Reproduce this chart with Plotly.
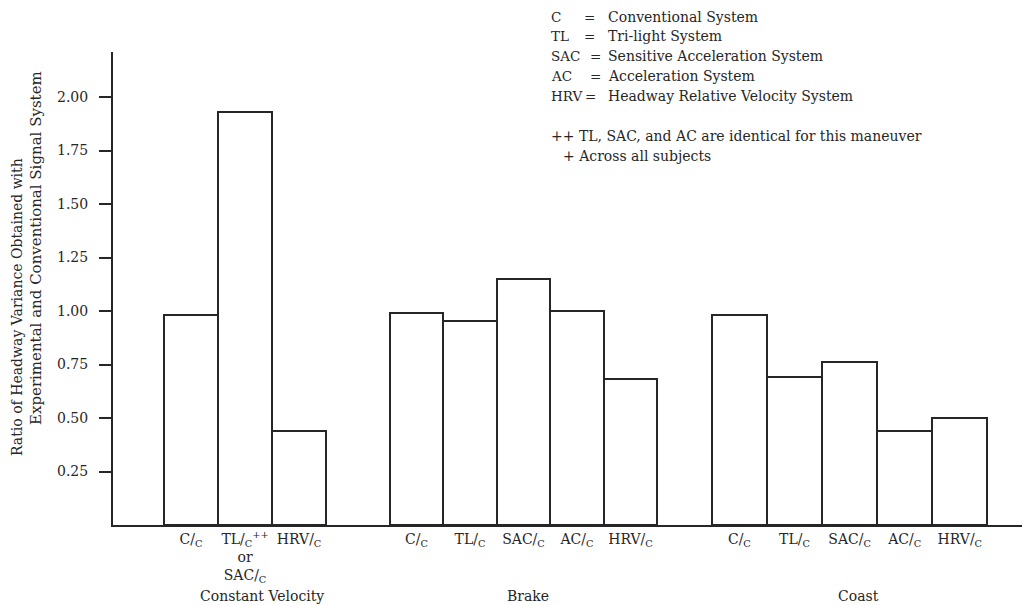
import plotly.graph_objects as go

# ---- data ----
groups = ["Constant Velocity", "Brake", "Coast"]
cv_labels = ["C/<sub>C</sub>", "TL/<sub>C</sub><sup>++</sup><br>or<br>SAC/<sub>C</sub>", "HRV/<sub>C</sub>"]
cv_values = [0.98, 1.93, 0.44]
brake_labels = ["C/<sub>C</sub>", "TL/<sub>C</sub>", "SAC/<sub>C</sub>", "AC/<sub>C</sub>", "HRV/<sub>C</sub>"]
brake_values = [0.99, 0.955, 1.15, 1.00, 0.68]
coast_labels = ["C/<sub>C</sub>", "TL/<sub>C</sub>", "SAC/<sub>C</sub>", "AC/<sub>C</sub>", "HRV/<sub>C</sub>"]
coast_values = [0.98, 0.69, 0.76, 0.44, 0.50]
y_ticks = [0.25, 0.50, 0.75, 1.00, 1.25, 1.50, 1.75, 2.00]
y_ticktext = ["0.25", "0.50", "0.75", "1.00", "1.25", "1.50", "1.75", "2.00"]

legend_codes = ["C", "TL", "SAC", "AC", "HRV"]
legend_desc = ["Conventional System", "Tri-light System", "Sensitive Acceleration System",
               "Acceleration System", "Headway Relative Velocity System"]
notes = ["++ TL, SAC, and AC are identical for this maneuver", "+ Across all subjects"]

# ---- layout constants ----
OFF = 8  # page body margin
W, H = 1030 - OFF, 605 - OFF
ML, MR, MT, MB = 113 - OFF, 0, 52 - OFF, 80
FONT = "DejaVu Serif"
FS = 14
INK = "#262626"
group_starts = [0.0, 4.22, 10.24]
group_widths = [1.01, 1.0, 1.03]

all_labels = [cv_labels, brake_labels, coast_labels]
all_values = [cv_values, brake_values, coast_values]

xs, ys, ws, texts = [], [], [], []
for g, (labs, vals) in enumerate(zip(all_labels, all_values)):
    w = group_widths[g]
    s = group_starts[g]
    for i, (lab, v) in enumerate(zip(labs, vals)):
        xs.append(s + w * (i + 0.5))
        ys.append(v)
        ws.append(w)
        texts.append(lab)

fig = go.Figure()
fig.add_trace(go.Bar(
    x=xs, y=ys, width=ws,
    marker=dict(color="white", line=dict(color=INK, width=2)),
    hoverinfo="y", showlegend=False,
))

plot_w = W - ML - MR
plot_h = H - MT - MB

def px(xp):  # screen pixel -> paper x
    return (xp - OFF - ML) / plot_w

def py(yp):  # screen pixel -> paper y
    return (OFF + H - MB - yp) / plot_h

def txt(text, x, y, xanchor="left", size=FS, angle=0):
    return dict(text=text, x=px(x), y=py(y), xref="paper", yref="paper",
                showarrow=False, xanchor=xanchor, yanchor="middle", textangle=angle,
                font=dict(family=FONT, size=size, color=INK))

ann = []
grp_pos = [(262, 596), (528, 596), (858, 596)]
for name, (gx, gy) in zip(groups, grp_pos):
    ann.append(txt(name, gx, gy, "center"))

line_y = [17, 36, 56, 76, 96]
eq_right = [597, 597, 603, 603, 598]
for code, desc, ly, ex in zip(legend_codes, legend_desc, line_y, eq_right):
    ann.append(txt(code, 549, ly, "left", size=13.5))
    ann.append(txt("=", ex, ly, "right", size=13.5))
    ann.append(txt(desc, 606, ly, "left"))
note_pos = [(549, 136), (561, 156)]
for note, (nx, ny) in zip(notes, note_pos):
    ann.append(txt(note, nx, ny, "left"))

ann.append(txt("Ratio of Headway Variance Obtained with", 17, 307, "center", angle=-90))
ann.append(txt("Experimental and Conventional Signal System", 36, 248, "center", size=15, angle=-90))

unit = 53.5
x0_px = 164
fig.update_layout(
    width=W, height=H,
    margin=dict(l=ML, r=MR, t=MT, b=MB, pad=0),
    paper_bgcolor="white", plot_bgcolor="white",
    bargap=0,
    annotations=ann,
    xaxis=dict(
        range=[(ML + OFF - x0_px) / unit, (W + OFF - MR - x0_px) / unit],
        showgrid=False, zeroline=False,
        showline=True, linecolor=INK, linewidth=2,
        tickmode="array", tickvals=xs, ticktext=texts,
        ticks="", tickfont=dict(family=FONT, size=FS, color=INK),
        fixedrange=True,
    ),
    yaxis=dict(
        range=[0, plot_h / 214.0],
        showgrid=False, zeroline=False,
        showline=True, linecolor=INK, linewidth=2,
        tickmode="array", tickvals=y_ticks, ticktext=y_ticktext,
        ticks="outside", ticklen=12, tickwidth=1.5, tickcolor=INK,
        ticklabelstandoff=8,
        tickfont=dict(family=FONT, size=FS, color=INK),
        fixedrange=True,
    ),
    font=dict(family=FONT, color=INK),
)

fig.write_html("out.html")
